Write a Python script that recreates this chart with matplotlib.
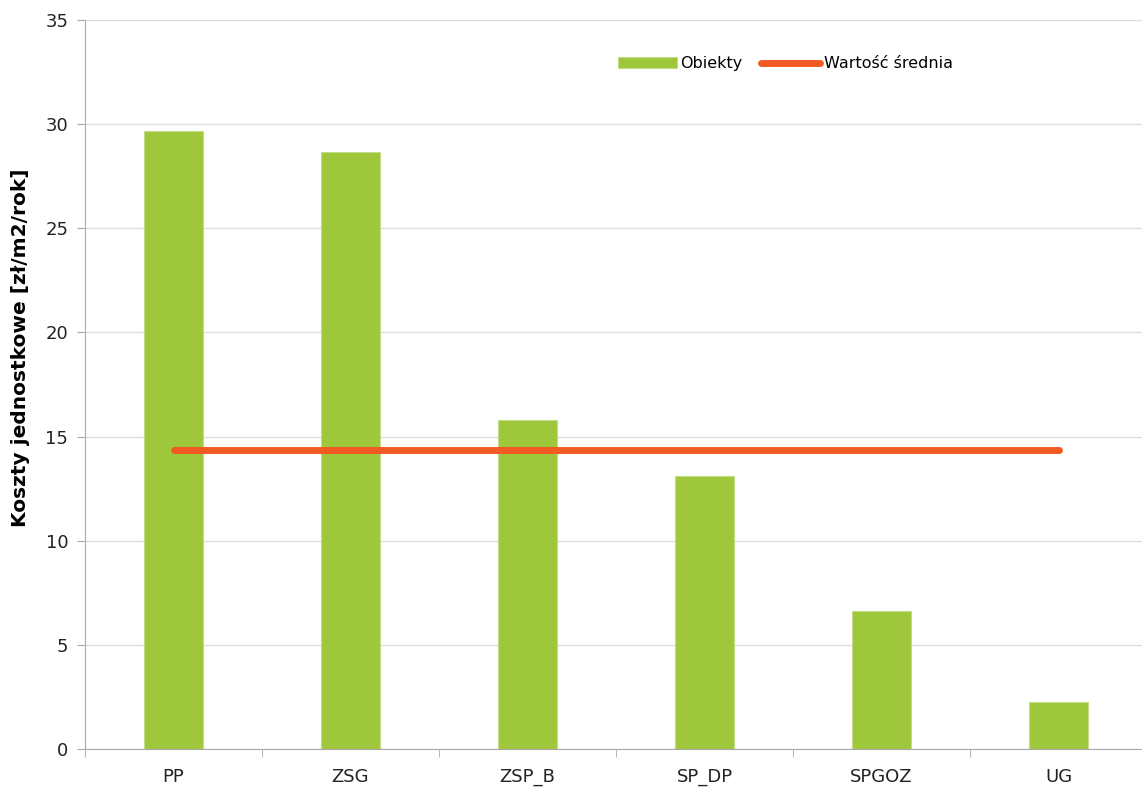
import matplotlib.pyplot as plt

categories = ["PP", "ZSG", "ZSP_B", "SP_DP", "SPGOZ", "UG"]
values = [29.65, 28.68, 15.8, 13.12, 6.62, 2.25]
mean_value = 14.36

plt.rcParams['font.family'] = ['DejaVu Sans']

fig = plt.figure(figsize=(11.42, 7.89), dpi=100)
ax = fig.add_axes([85 / 1142, 1 - 749 / 789, 1062 / 1142, 729 / 789])

x = list(range(len(categories)))
bars = ax.bar(x, values, 0.33, color="#9fc73b", edgecolor="#c4dc8a", linewidth=0.8,
              label="Obiekty", zorder=2)
line, = ax.plot([x[0], x[-1]], [mean_value, mean_value], color="#f15a22", linewidth=5,
                solid_capstyle="round", label="Wartość średnia", zorder=3)

ax.set_xlim(-0.5, len(categories) - 0.5)
ax.set_ylim(0, 35)
ax.set_yticks(range(0, 36, 5))
ax.set_xticks(x)
ax.set_xticklabels(categories)
ax.set_xticks([i + 0.5 for i in range(-1, len(categories))], minor=True)
ax.tick_params(axis="x", which="major", length=0, pad=14, labelsize=13, colors="#222222")
ax.tick_params(axis="x", which="minor", length=6, color="#aaaaaa")
ax.tick_params(axis="y", length=6, color="#aaaaaa", labelsize=13, pad=6, labelcolor="#222222")

ax.grid(axis="y", color="#dddddd", linewidth=1, zorder=0)
for s in ["top", "right"]:
    ax.spines[s].set_visible(False)
for s in ["left", "bottom"]:
    ax.spines[s].set_color("#aaaaaa")

ax.set_ylabel("Koszty jednostkowe [zł/m2/rok]", fontsize=14.5, fontweight="bold")
ax.yaxis.set_label_coords(-0.052, 0.551)

ax.legend([bars, line], ["Obiekty", "Wartość średnia"], loc="upper left",
          bbox_to_anchor=(0.488, 0.97), ncol=2, frameon=False,
          fontsize=11.5, handlelength=3.7, handletextpad=0.2, columnspacing=1.2)

fig.savefig("out.png", dpi=100)
